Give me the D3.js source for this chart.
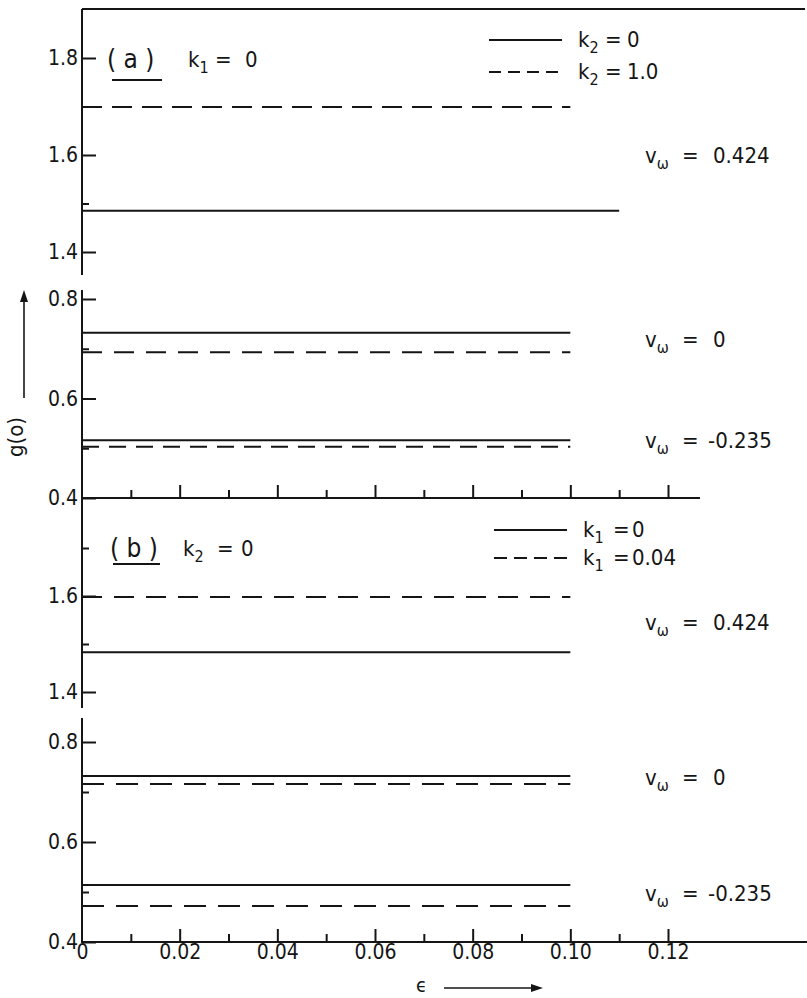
<!DOCTYPE html>
<html><head><meta charset="utf-8">
<script src="https://cdn.jsdelivr.net/npm/d3@7"></script>
<style>
body{margin:0;background:#fff}
svg text{font-family:"DejaVu Sans Condensed","DejaVu Sans",sans-serif;fill:#151515}
</style>
</head><body><svg id="c" width="807" height="998"></svg>
<script>
// ---------- data ----------
const epsMajor = [0.02, 0.04, 0.06, 0.08, 0.10, 0.12];
const epsMinor = [0.01, 0.03, 0.05, 0.07, 0.09, 0.11];
const epsLabels = ["0", "0.02", "0.04", "0.06", "0.08", "0.10", "0.12"];
const epsLabelVals = [0, 0.02, 0.04, 0.06, 0.08, 0.10, 0.12];
const vOmega = ["0.424", "0", "-0.235"];
// panel (a): k1 = 0
const aSolid_k2_0 = [1.485, 0.732, 0.516];
const aDash_k2_1 = [1.699, 0.693, 0.503];
const aSolidEnd = [0.11, 0.10, 0.10];
const aDashEnd = [0.10, 0.10, 0.10];
// panel (b): k2 = 0
const bSolid_k1_0 = [1.483, 0.732, 0.514];
const bDash_k1_004 = [1.598, 0.716, 0.472];
const bSolidEnd = [0.10, 0.10, 0.10];
const bDashEnd = [0.10, 0.10, 0.10];
const upperTickMajor = [1.4, 1.6, 1.8];
const upperTickMinor = [1.5, 1.7];
const lowerTickMajor = [0.4, 0.6, 0.8];
const lowerTickMinor = [0.5, 0.7];

// ---------- layout ----------
const svg = d3.select("#c");
const x = d3.scaleLinear().domain([0, 0.12]).range([82, 668]);
const yAtop = d3.scaleLinear().domain([1.4, 1.8]).range([252, 58]);
const yAbot = d3.scaleLinear().domain([0.4, 0.8]).range([498, 299]);
const yBtop = d3.scaleLinear().domain([1.4, 1.8]).range([692, 500]);
const yBbot = d3.scaleLinear().domain([0.4, 0.8]).range([942, 742]);
const X0 = x(0);
const SW = 2;
const ink = "#151515";
const TICKFS = 21;

function vline(y1, y2) {
  svg.append("line").attr("x1", X0).attr("x2", X0).attr("y1", y1).attr("y2", y2)
    .attr("stroke", ink).attr("stroke-width", SW);
}
function hline(y, x1, x2) {
  svg.append("line").attr("x1", x1).attr("x2", x2).attr("y1", y).attr("y2", y)
    .attr("stroke", ink).attr("stroke-width", SW);
}
function yAxis(scale, major, minor) {
  const g = svg.append("g").attr("transform", `translate(${X0},0)`);
  g.call(d3.axisLeft(scale).tickValues(major).tickSize(-14).tickPadding(4)
    .tickFormat(d3.format(".1f")));
  g.select(".domain").remove();
  g.selectAll(".tick line").attr("stroke", ink).attr("stroke-width", SW);
  g.selectAll(".tick text").attr("font-size", TICKFS).attr("fill", ink).attr("font-family", null);
  const g2 = svg.append("g").attr("transform", `translate(${X0},0)`);
  g2.call(d3.axisLeft(scale).tickValues(minor).tickSize(-7).tickFormat(""));
  g2.select(".domain").remove();
  g2.selectAll(".tick line").attr("stroke", ink).attr("stroke-width", SW);
}

// top border
hline(9, X0, 805);
// left axis segments with breaks
vline(9, 275);
vline(290, 498);
vline(498, 708);
vline(718, 943);

yAxis(yAtop, upperTickMajor, upperTickMinor);
yAxis(yAbot, lowerTickMajor, lowerTickMinor);
yAxis(yBtop, [1.4, 1.6], upperTickMinor);
yAxis(yBbot, lowerTickMajor, lowerTickMinor);

// middle x axis (panel a bottom)
hline(498, X0, 700);
{
  const g = svg.append("g").attr("transform", "translate(0,498)");
  g.call(d3.axisTop(x).tickValues(epsMajor).tickSize(13).tickFormat(""));
  g.select(".domain").remove();
  g.selectAll(".tick line").attr("stroke", ink).attr("stroke-width", SW);
  const g2 = svg.append("g").attr("transform", "translate(0,498)");
  g2.call(d3.axisTop(x).tickValues(epsMinor).tickSize(8).tickFormat(""));
  g2.select(".domain").remove();
  g2.selectAll(".tick line").attr("stroke", ink).attr("stroke-width", SW);
}
// bottom x axis
hline(942, X0, 807);
{
  const g = svg.append("g").attr("transform", "translate(0,942)");
  g.call(d3.axisBottom(x).tickValues(epsLabelVals).tickSize(-13).tickPadding(2)
    .tickFormat((d, i) => epsLabels[i]));
  g.select(".domain").remove();
  g.selectAll(".tick line").attr("stroke", ink).attr("stroke-width", SW)
    .filter(d => d === 0).remove();
  g.selectAll(".tick text").attr("font-size", TICKFS).attr("fill", ink).attr("font-family", null);
  const g2 = svg.append("g").attr("transform", "translate(0,942)");
  g2.call(d3.axisBottom(x).tickValues(epsMinor).tickSize(-8).tickFormat(""));
  g2.select(".domain").remove();
  g2.selectAll(".tick line").attr("stroke", ink).attr("stroke-width", SW);
}

// ---------- series ----------
const line = d3.line().x(d => x(d[0])).y(d => d[1]);
function series(vals, ends, scales, dashed, dash) {
  vals.forEach((v, i) => {
    const s = scales[i];
    svg.append("path").datum([[0, s(v)], [ends[i], s(v)]])
      .attr("d", line).attr("fill", "none").attr("stroke", ink)
      .attr("stroke-width", SW)
      .attr("stroke-dasharray", dashed ? dash[i] : null);
  });
}
const scalesA = [yAtop, yAbot, yAbot];
const scalesB = [yBtop, yBbot, yBbot];
series(aSolid_k2_0, aSolidEnd, scalesA, false);
series(aDash_k2_1, aDashEnd, scalesA, true, ["20,10", "20,12", "17,10"]);
series(bSolid_k1_0, bSolidEnd, scalesB, false);
series(bDash_k1_004, bDashEnd, scalesB, true, ["20,12", "22,12", "22,12"]);

// ---------- text ----------
function label(xp, y, parts, size) {
  const t = svg.append("text").attr("x", xp).attr("y", y).attr("font-size", size || 22);
  parts.forEach(p => {
    const ts = t.append("tspan").text(p.t);
    if (p.x != null) ts.attr("x", p.x);
    if (p.sub) ts.attr("font-size", 16).attr("dy", 6);
    if (p.up) ts.attr("dy", -6);
  });
  return t;
}
function vLabel(y, val) {
  label(645, y + 7, [{t: "v"}, {t: "ω", sub: true}, {t: "=", x: 682, up: true}, {t: val, x: val.startsWith("-") ? 708 : 713}]);
}
vOmega.forEach((val, i) => {
  vLabel(scalesA[i]((aSolid_k2_0[i] + aDash_k2_1[i]) / 2) - 3, val);
  vLabel(scalesB[i]((bSolid_k1_0[i] + bDash_k1_004[i]) / 2) - 2, val);
});

// panel titles
label(107, 68, [{t: "( a )"}], 26);
hline(80, 112, 162);
label(188, 67, [{t: "k"}, {t: "1", sub: true}, {t: "=", x: 215, up: true}, {t: "0", x: 245}]);
label(110, 557, [{t: "( b )"}], 26);
hline(564, 113, 160);
label(183, 556, [{t: "k"}, {t: "2", sub: true}, {t: "=", x: 217, up: true}, {t: "0", x: 241}]);

// legends
hline(40, 489, 562);
svg.append("line").attr("x1", 489).attr("x2", 562).attr("y1", 72).attr("y2", 72)
  .attr("stroke", ink).attr("stroke-width", SW).attr("stroke-dasharray", "12,7");
label(578, 47, [{t: "k"}, {t: "2", sub: true}, {t: "=", x: 605, up: true}, {t: "0", x: 627}]);
label(578, 79, [{t: "k"}, {t: "2", sub: true}, {t: "=", x: 605, up: true}, {t: "1.0", x: 627}]);

hline(530, 494, 567);
svg.append("line").attr("x1", 494).attr("x2", 567).attr("y1", 558).attr("y2", 558)
  .attr("stroke", ink).attr("stroke-width", SW).attr("stroke-dasharray", "13,7");
label(583, 537, [{t: "k"}, {t: "1", sub: true}, {t: "=", x: 613, up: true}, {t: "0", x: 632}]);
label(583, 565, [{t: "k"}, {t: "1", sub: true}, {t: "=", x: 613, up: true}, {t: "0.04", x: 632}]);

// axis titles
svg.append("text").attr("transform", "translate(23,437) rotate(-90)")
  .attr("text-anchor", "middle").attr("font-size", 22).text("g(o)");
svg.append("line").attr("x1", 24).attr("x2", 24).attr("y1", 398).attr("y2", 296)
  .attr("stroke", ink).attr("stroke-width", 1.6);
svg.append("path").attr("d", "M24,290 L20,302 L28,302 Z").attr("fill", ink);

svg.append("text").attr("x", 416).attr("y", 992).attr("font-size", 20).text("ϵ");
svg.append("line").attr("x1", 444).attr("x2", 536).attr("y1", 988).attr("y2", 988)
  .attr("stroke", ink).attr("stroke-width", 1.6);
svg.append("path").attr("d", "M543,988 L531,984 L531,992 Z").attr("fill", ink);
</script>
</body></html>
